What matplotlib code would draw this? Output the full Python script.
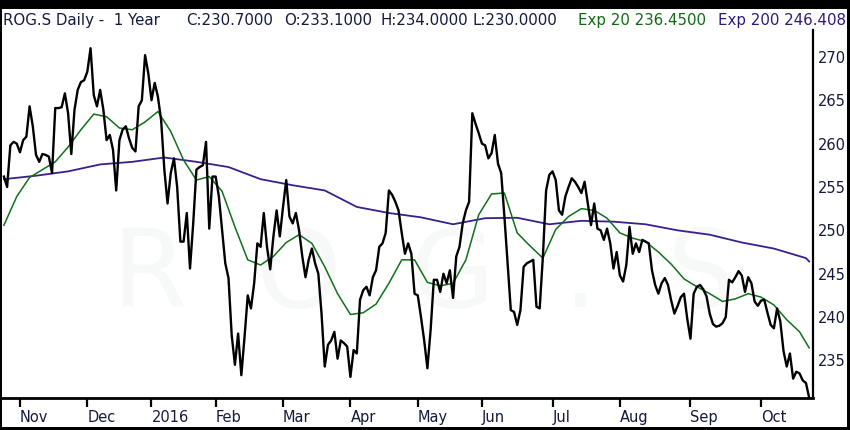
import numpy as np
import pandas as pd
import matplotlib
matplotlib.use("Agg")
import matplotlib.pyplot as plt
from matplotlib.patches import Rectangle

# SIX exchange holidays inside the window (no trading rows on these)
holidays = ["2015-12-24", "2015-12-25", "2015-12-31", "2016-01-01",
            "2016-03-25", "2016-03-28", "2016-05-05", "2016-05-16",
            "2016-08-01"]
start = "2015-10-26"

# daily close
close = [
    256.2, 255.0, 259.8, 260.2, 260.0, 259.0, 260.4, 260.8, 264.3, 262.0,
    258.7, 257.9, 258.8, 258.7, 258.5, 256.6, 264.1, 264.1, 264.2, 265.8,
    263.5, 258.8, 263.9, 266.2, 267.1, 267.3, 268.3, 271.0, 265.6, 264.3,
    266.2, 263.9, 260.4, 261.0, 259.3, 254.6, 260.4, 261.6, 262.0, 260.6,
    259.5, 259.1, 264.3, 265.0, 270.2, 268.1, 265.0, 267.0, 265.4, 262.7,
    257.0, 253.1, 256.6, 258.3, 255.0, 248.7, 248.7, 252.0, 245.6, 250.8,
    257.0, 257.3, 257.5, 260.2, 250.2, 256.2, 256.2, 253.9, 250.0, 246.2,
    244.5, 237.9, 234.5, 238.1, 233.3, 237.7, 242.5, 241.0, 243.9, 248.5,
    248.1, 252.0, 248.1, 245.5, 249.3, 252.3, 249.3, 252.7,
    255.8, 251.6, 250.8, 252.0, 250.0, 247.0, 244.6, 246.6, 247.9, 246.2,
    245.0, 240.4, 234.3, 236.8, 237.3, 238.3, 235.2, 237.3, 237.0, 236.6,
    233.1, 236.2, 235.8, 242.0, 243.1, 243.5, 242.5, 244.6, 245.4, 248.1,
    248.5, 249.7, 254.6, 254.1, 253.3, 252.3, 249.7, 247.3, 248.5, 247.3,
    242.7, 242.5, 240.0, 237.3, 234.1, 238.5, 244.3, 244.3, 242.9, 245.0,
    243.9, 245.4, 242.2, 247.0, 248.1, 250.8, 252.3, 253.3,
    263.5, 262.3, 261.2, 260.0, 259.8, 258.3, 258.9, 261.0, 257.7, 256.6,
    251.6, 246.2, 240.8, 240.6, 239.1, 240.8, 245.8, 246.2, 246.4, 246.6,
    241.2, 241.0, 247.0, 254.6, 256.4, 256.8, 255.8, 252.3, 251.8, 253.9,
    255.0, 256.0, 255.6, 255.0, 254.3, 255.6, 253.1, 250.6, 253.1, 250.2,
    250.0, 248.9, 250.2, 248.5, 245.6, 247.5, 244.8, 244.1, 246.0, 250.4,
    247.3, 248.5, 247.5, 248.9, 248.7, 248.5, 245.4, 243.7, 242.7,
    243.9, 244.5, 243.7, 241.9, 240.4, 241.3, 242.3, 242.7, 239.8, 237.5,
    242.7, 243.5, 243.7, 243.2, 242.4, 240.4, 239.2, 238.9, 239.0, 239.3,
    240.0, 244.3, 244.0, 244.6, 245.3, 244.8, 242.9, 244.6, 243.9, 241.8,
    241.3, 241.9, 242.0, 240.5, 239.1, 238.7, 241.0, 239.5, 236.1, 234.3,
    235.8, 232.9, 233.7, 233.5, 232.7, 232.4, 230.7,
]

# Exp 20, read every 4th session (plus the last one)
ema20 = [
    250.6, 253.9, 256.1, 257.0, 257.9, 259.6, 261.6, 263.4, 263.1, 261.8,
    261.6, 262.5, 263.7, 261.4, 258.1, 255.8, 256.2, 254.5, 250.4, 246.6,
    246.0, 247.0, 248.6, 249.5, 248.5, 245.8, 242.7, 240.3, 240.5, 241.5,
    243.9, 246.6, 246.6, 244.0, 243.6, 243.9, 246.6, 251.8, 254.2, 254.3,
    249.7, 248.2, 246.8, 250.1, 251.6, 252.5, 252.3, 251.4, 249.7, 249.1,
    248.7, 247.5, 246.1, 244.4, 243.5, 242.7, 241.8, 242.1, 242.7, 242.3,
    241.4, 239.7, 238.3, 236.45,
]
# Exp 200, read every 10th session (plus the last one)
ema200 = [
    255.9, 256.3, 256.8, 257.6, 257.9, 258.4, 257.9, 257.3, 255.9, 255.2,
    254.6, 252.7, 252.0, 251.5, 250.7, 251.4, 251.45, 250.7, 251.1, 251.0,
    250.7, 250.0, 249.5, 248.6, 247.9, 246.8, 246.41,
]

yticks = [235, 240, 245, 250, 255, 260, 265, 270]
title_parts = [("ROG.S Daily -  1 Year", 3, "#141a3c"),
               ("C:230.7000", 186, "#141a3c"),
               ("O:233.1000", 284, "#141a3c"),
               ("H:234.0000", 381, "#141a3c"),
               ("L:230.0000", 472, "#141a3c"),
               ("Exp 20 236.4500", 578, "#0f6b12"),
               ("Exp 200 246.408", 718, "#2f1a7c")]

cbd = pd.offsets.CustomBusinessDay(holidays=holidays)
dates = pd.date_range(start, periods=len(close), freq=cbd)
n = len(close)
days = np.arange(n)
d20 = list(range(0, n - 3, 4)) + [n - 1]
d200 = list(range(0, n - 1, 10)) + [n - 1]

# first session of each month -> tick
mstart = [i for i in range(1, n) if dates[i].month != dates[i - 1].month]
mlabels = [str(dates[i].year) if dates[i].month == 1 else dates[i].strftime("%b")
           for i in mstart]

W, H = 850, 430
fig = plt.figure(figsize=(W / 100, H / 100), dpi=100, facecolor="black")
fig.patches.append(Rectangle((2 / W, 3 / H), (W - 5) / W, (H - 12) / H,
                             transform=fig.transFigure, facecolor="white",
                             edgecolor="none", zorder=-10))

ax = fig.add_axes([2 / W, 32 / H, 810.7 / W, 368 / H])
ax.set_zorder(1)
ax.set_facecolor("white")

ax.text(0.52, 0.33, "R  O  G  .  S", transform=ax.transAxes, ha="center", va="center",
        fontsize=78, color="#f7f8f8", zorder=0)

ax.plot(days[d200], ema200, color="#3a1f8e", lw=1.3, zorder=2)
ax.plot(days[d20], ema20, color="#11701a", lw=1.1, zorder=3)
ax.plot(days, close, color="black", lw=1.7, zorder=4)

ax.set_xlim(-0.6, 252.1)
ax.set_ylim(230.67, 273.1)

for s in ["left", "top"]:
    ax.spines[s].set_visible(False)
ax.spines["right"].set_linewidth(1.6)
ax.spines["bottom"].set_linewidth(2.0)

ax.yaxis.tick_right()
ax.set_yticks(yticks)
ax.tick_params(axis="y", length=0, pad=4, labelsize=10.5, labelcolor="#141a3c")

ax.set_xticks(mstart)
ax.set_xticklabels(mlabels)
ax.tick_params(axis="x", direction="out", length=6.5, width=1.6, pad=2,
               labelsize=10.5, labelcolor="#141a3c")
for lab in ax.get_xticklabels():
    lab.set_horizontalalignment("left")

for txt, x, c in title_parts:
    fig.text(x / W, 1 - 20.5 / H, txt, ha="left", va="center", fontsize=10.8, color=c)

fig.savefig("out.png", dpi=100, facecolor=fig.get_facecolor())
